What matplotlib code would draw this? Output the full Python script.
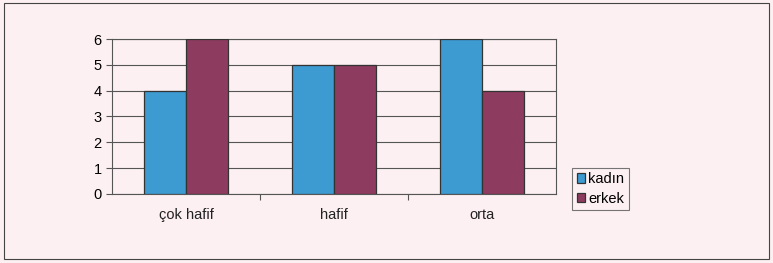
import numpy as np
import matplotlib.pyplot as plt
from matplotlib.patches import Rectangle

kategoriler = ["çok hafif", "hafif", "orta"]
kadin = [4, 5, 6]
erkek = [6, 5, 4]
y_ticks = [0, 1, 2, 3, 4, 5, 6]

plt.rcParams['font.family'] = ['Liberation Sans', 'DejaVu Sans']

fig = plt.figure(figsize=(7.73, 2.63), dpi=100)
fig.patch.set_facecolor('#fcf0f2')
ax = fig.add_axes([0.1449, 0.2624, 0.5744, 0.5893])
ax.set_facecolor('#fcf0f2')

x = np.arange(len(kategoriler))
w = 0.285
ax.bar(x - w / 2, kadin, w, color='#3d9bd1', edgecolor='#333333', linewidth=0.9,
       label='kadın', zorder=3)
ax.bar(x + w / 2, erkek, w, color='#8e3b60', edgecolor='#333333', linewidth=0.9,
       label='erkek', zorder=3)

ax.set_xlim(-0.5, 2.5)
ax.set_ylim(0, 6)
ax.set_yticks(y_ticks)
ax.yaxis.grid(True, color='#555555', linewidth=0.8, zorder=0)
ax.set_xticks([0.5, 1.5])
ax.set_xticklabels([])
ax.tick_params(axis='x', direction='out', length=4, color='#555555')
ax.tick_params(axis='y', direction='out', length=4, color='#555555', labelsize=10.5)
for i, k in enumerate(kategoriler):
    ax.text(i, -0.55, k, ha='center', va='top', fontsize=10.5, color='#222222')
for s in ax.spines.values():
    s.set_color('#555555')
    s.set_linewidth(0.8)

leg = fig.legend(loc='upper left', bbox_to_anchor=(0.731, 0.39), fontsize=10.5,
                 frameon=True, fancybox=False, edgecolor='#555555',
                 handlelength=0.6, handleheight=0.6, handletextpad=0.2,
                 borderpad=0.3, labelspacing=0.4)
leg.get_frame().set_facecolor('#fcf0f2')
leg.get_frame().set_linewidth(0.8)

fig.patches.append(Rectangle((0.005, 0.015), 0.99, 0.975, transform=fig.transFigure,
                             fill=False, edgecolor='#444444', linewidth=0.8))

fig.savefig('out.png', dpi=100)
